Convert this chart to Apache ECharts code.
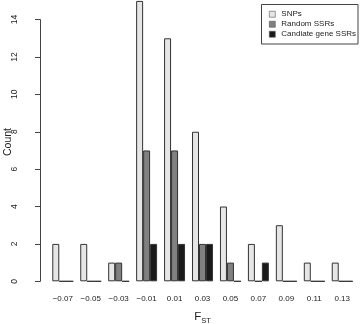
<!DOCTYPE html>
<html>
<head>
<meta charset="utf-8">
<script src="https://cdn.jsdelivr.net/npm/echarts@6/dist/echarts.min.js"></script>
<style>html,body{margin:0;padding:0;background:#fff}#c{width:360px;height:324px}</style>
</head>
<body>
<div id="c"></div>
<script>
const categories = ['\u22120.07','\u22120.05','\u22120.03','\u22120.01','0.01','0.03','0.05','0.07','0.09','0.11','0.13'];
const snps = [2,2,1,15,13,8,4,2,3,1,1];
const randomSSRs = [0,0,1,7,7,2,1,0,0,0,0];
const candidateSSRs = [0,0,0,2,2,2,0,1,0,0,0];
const seriesNames = ['SNPs','Random SSRs','Candiate gene SSRs'];
const seriesColors = ['#e6e6e6','#808080','#1a1a1a'];
const yTicks = {min:0, max:14, interval:2};

const chart = echarts.init(document.getElementById('c'), null, {renderer:'canvas'});
const font = 'Liberation Sans, Arial, sans-serif';
const mk = (name, data, color) => ({
  name, type:'bar', data, clip:false, barGap:'0%', barCategoryGap:'25%',
  itemStyle:{color, borderColor:'#333', borderWidth:1},
  animation:false
});
chart.setOption({
  animation:false,
  textStyle:{fontFamily:font},
  grid:{left:48.8, right:3.8, top:19.6, bottom:42.7, containLabel:false, outerBoundsMode:'none'},
  legend:{
    orient:'vertical', left:261.5, top:4.5,
    data:seriesNames,
    icon:'rect', itemWidth:6, itemHeight:6, itemGap:0.5,
    borderColor:'#444', borderWidth:1, borderRadius:0,
    padding:[5,2,5,7.5],
    itemStyle:{borderWidth:0.6, borderColor:'#555'},
    textStyle:{fontSize:8, color:'#222', lineHeight:9.5, padding:[0,0,0,1], fontFamily:font}
  },
  xAxis:{
    type:'category', data:categories,
    axisLine:{show:false}, axisTick:{show:false},
    axisLabel:{fontSize:8, color:'#222', margin:13, interval:0, fontFamily:font},
    name:'{a|F}{b|ST}', nameLocation:'middle', nameGap:29,
    nameTextStyle:{rich:{
      a:{fontSize:11.5, color:'#222', fontFamily:font, verticalAlign:'bottom', lineHeight:13},
      b:{fontSize:7.5, color:'#222', fontFamily:font, verticalAlign:'bottom', lineHeight:10, padding:[0,0,-2,0]}
    }}
  },
  yAxis:{
    type:'value', min:yTicks.min, max:yTicks.max, interval:yTicks.interval, offset:8.8,
    axisLine:{show:true, lineStyle:{color:'#444', width:1}},
    axisTick:{show:true, length:5, lineStyle:{color:'#444'}},
    splitLine:{show:false},
    axisLabel:{fontSize:8.5, color:'#222', rotate:90, margin:10, align:'center', verticalAlign:'bottom', padding:[0,0,11,0], fontFamily:font}
  },
  graphic:[{
    type:'text', x:8, y:142, rotation:Math.PI/2,
    style:{text:'Count', fontSize:10.5, fontFamily:font, fill:'#222', align:'center', verticalAlign:'middle'}
  }],
  series:[
    mk(seriesNames[0], snps, seriesColors[0]),
    mk(seriesNames[1], randomSSRs, seriesColors[1]),
    mk(seriesNames[2], candidateSSRs, seriesColors[2])
  ]
});
</script>
</body>
</html>
